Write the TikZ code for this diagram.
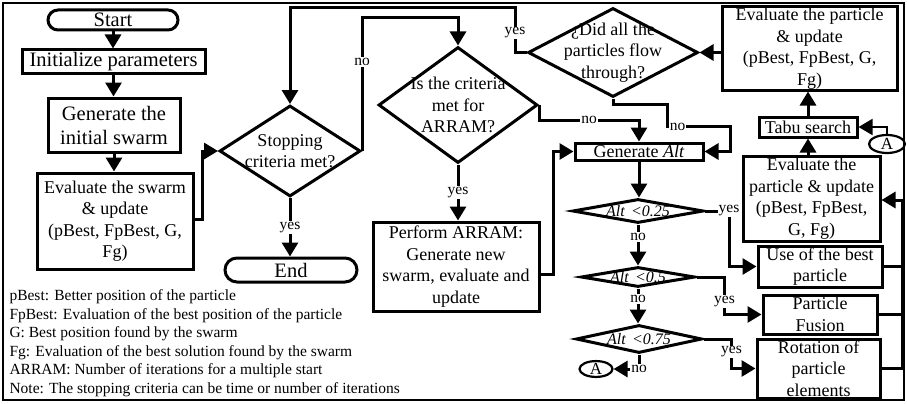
\documentclass[tikz,border=0pt]{standalone}
\usepackage{fontspec}
\setmainfont{Liberation Serif}
\usetikzlibrary{arrows.meta,shapes.geometric,shapes.misc}

\newcommand{\bigtxt}{\fontsize{20.5}{24}\selectfont}
\newcommand{\boxtxt}{\fontsize{18}{21.5}\selectfont}
\newcommand{\smalltxt}{\fontsize{15.5}{18.6}\selectfont}
\newcommand{\alttxt}{\fontsize{16}{19}\selectfont\itshape}

\tikzset{
    box/.style={draw, rectangle, align=center, inner sep=0pt, font=\boxtxt},
    term/.style={draw, rounded rectangle, inner sep=0pt, font=\bigtxt},
    decision/.style={draw, diamond, inner sep=0pt},
    dtxt/.style={align=center, inner sep=0pt, font=\boxtxt},
    atxt/.style={inner sep=0pt, font=\alttxt},
    conn/.style={draw, ellipse, inner sep=0pt, line width=2.2pt, font=\fontsize{17}{20}\selectfont},
    lbl/.style={fill=white, inner sep=1pt, font=\smalltxt},
    arr/.style={-{Triangle[length=14pt,width=16pt]}}
}

\begin{document}
\begin{tikzpicture}[x=1pt, y=-1pt, line width=3pt]
                \useasboundingbox (0,0) rectangle (907,404);
                \draw[line width=2pt] (3,3) rectangle (904,400);
                % Left column:
                \node[term, minimum width=130pt, minimum height=20pt] (start) at (113,20) {Start};
                \node[box, font=\bigtxt, minimum width=183pt, minimum height=23pt] (init) at (113.5,61.5) {Initialize parameters};
                \node[box, font=\bigtxt, minimum width=132pt, minimum height=54pt] (gen) at (114,125) {Generate the\\initial swarm};
                \node[box, minimum width=156pt, minimum height=96pt] (evals) at (115,221) {Evaluate the swarm\\\& update\\(pBest, FpBest, G,\\Fg)};
                \node[decision, minimum width=141pt, minimum height=91pt, label={[dtxt]center:Stopping\\criteria met?}] (stop) at (290,151) {};
                \node[term, minimum width=132pt, minimum height=24pt] (end) at (291,270) {End};
                % Middle column:
                \node[decision, minimum width=159pt, minimum height=116pt, label={[dtxt]center:Is the criteria\\met for\\ARRAM?}] (arram) at (458,105) {};
                \node[box, minimum width=166pt, minimum height=89pt] (perform) at (456,266.5) {Perform ARRAM:\\Generate new\\swarm, evaluate and\\update};
                \node[decision, minimum width=170pt, minimum height=89pt, label={[dtxt]center:¿Did all the\\particles flow\\through?}] (flow) at (613,52.5) {};
                \node[box, minimum width=128pt, minimum height=17pt] (genalt) at (639,151.5) {Generate \textit{Alt}};
                \node[decision, minimum width=131pt, minimum height=24pt, label={[atxt]center:Alt\hspace{0.4em}<0.25}] (alt1) at (638,211) {};
                \node[decision, minimum width=114pt, minimum height=20pt, label={[atxt]center:Alt\hspace{0.4em}<0.5}] (alt2) at (638,277) {};
                \node[decision, minimum width=126pt, minimum height=28pt, label={[atxt]center:Alt\hspace{0.4em}<0.75}] (alt3) at (639,339) {};
                \node[conn, minimum width=33pt, minimum height=15pt] (connL) at (596,369) {A};
                % Right column:
                \node[box, minimum width=175pt, minimum height=83pt] (evalp) at (809.5,48.5) {Evaluate the particle\\\& update\\(pBest, FpBest, G,\\Fg)};
                \node[box, minimum width=98pt, minimum height=20pt] (tabu) at (808,127) {Tabu search};
                \node[conn, minimum width=36pt, minimum height=18pt] (connR) at (887,144) {A};
                \node[box, minimum width=137pt, minimum height=85pt] (evalq) at (811.5,198.5) {Evaluate the\\particle \& update\\(pBest, FpBest,\\G, Fg)};
                \node[box, minimum width=124pt, minimum height=41pt] (best) at (820,266.5) {Use of the best\\particle};
                \node[box, minimum width=114pt, minimum height=39pt] (fusion) at (820,314.5) {Particle\\Fusion};
                \node[box, minimum width=123pt, minimum height=59pt] (rot) at (818.5,368.5) {Rotation of\\particle\\elements};
                \coordinate (col) at (902,200);
                % Legend:
                \node[anchor=north west, align=left, inner sep=0pt, font=\smalltxt] (legend) at (8,288) {pBest: Better position of the particle\\FpBest: Evaluation of the best position of the particle\\G: Best position found by the swarm\\Fg: Evaluation of the best solution found by the swarm\\ARRAM: Number of iterations for a multiple start\\Note: The stopping criteria can be time or number of iterations};
                % Wires:
                \draw[arr] (start.south) -- (start.south |- init.north);
                \draw[arr] (init.south) -- (init.south |- gen.north);
                \draw[arr] (gen.south) -- (gen.south |- evals.north);
                \draw[arr] ([yshift=2pt]evals.east) -- ++(8,0) |- (stop.west);
                \draw[arr] (stop.south) -- node[lbl]{yes} (stop.south |- end.north);
                \draw[arr] (stop.east) -- node[lbl, pos=0.67]{no} (stop.east |- 0,18) -| (arram.north);
                \draw[arr] (flow.west) -| node[lbl, pos=0.72]{yes} (515,8) -| (stop.north);
                \draw[arr] (arram.east) -- ++(0,15) -| node[lbl, pos=0.25]{no} (genalt.north);
                \draw[arr] (arram.south) -- node[lbl]{yes} (arram.south |- perform.north);
                \draw[arr] ([yshift=-8pt]perform.east) -- ++(13,0) |- (genalt.west);
                \draw[arr] (flow.south) -- ++(0,6) -| ++(54,22) -- node[lbl, pos=0.17]{no} ++(63,0) |- (genalt.east);
                \draw[arr] (evalp.west |- flow.east) -- (flow.east);
                \draw[arr] (tabu.north) -- (tabu.north |- evalp.south);
                \draw[arr] (evalq.north -| tabu.north) -- (tabu.south);
                \draw[arr, line width=1.8pt] (connR.north) |- (tabu.east);
                \draw[arr] (genalt.south) -- (genalt.south |- alt1.north);
                \draw[arr] (alt1.east) -- ++(24,0) node[lbl]{yes} |- (best.west);
                \draw[arr] (alt2.east) -- ++(28,0) |- node[lbl, pos=0.33]{yes} (fusion.west);
                \draw[arr] (alt3.east) -- ++(28,0) |- node[lbl, pos=0.22]{yes} (rot.west);
                \draw[arr] (alt1.south) -- node[lbl, pos=0.3]{no} (alt1.south |- alt2.north);
                \draw[arr] (alt2.south) -- node[lbl, pos=0.3]{no} (alt2.south |- alt3.north);
                \draw[arr] (alt3.south) |- node[lbl, pos=0.5]{no} (connL.east);
                \draw (best.east) -- (best.east -| col);
                \draw (fusion.east) -- (fusion.east -| col);
                \draw[arr] (rot.east) -| (col) -- (evalq.east |- col);
            \end{tikzpicture}
\end{document}
